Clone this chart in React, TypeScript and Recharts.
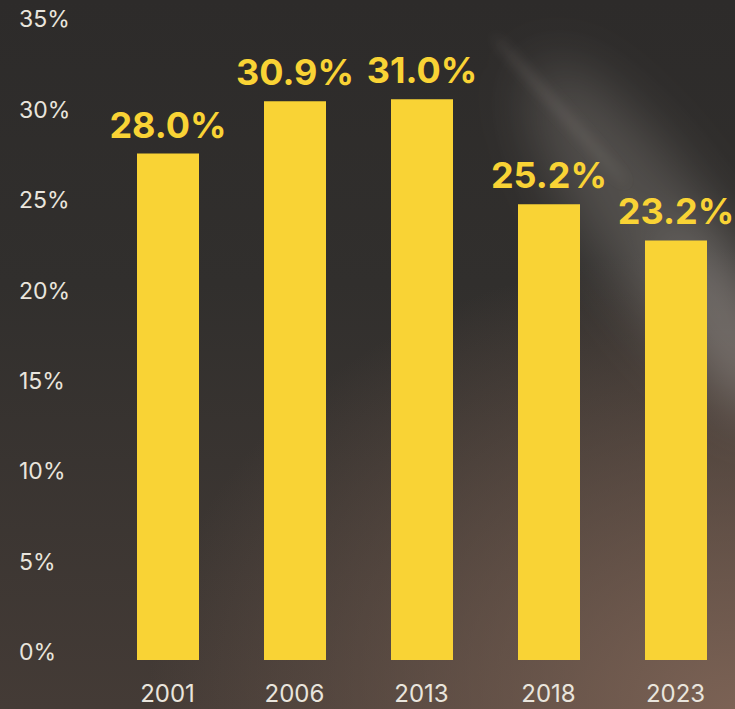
import { BarChart, Bar, XAxis, YAxis, LabelList } from 'recharts';

const years = ['2001', '2006', '2013', '2018', '2023'];
const shares = [28.0, 30.9, 31.0, 25.2, 23.2];
const yTicks = [0, 5, 10, 15, 20, 25, 30, 35];

const data = years.map((year, i) => ({ year, share: shares[i] }));

const YELLOW = '#F9D335';
const LIGHT = '#E9E5DD';
const FONT = 'Inter, "Noto Sans", sans-serif';

function YTick({ y, payload }: any) {
  return (
    <text x={19} y={y - 8} dy="0.36em" textAnchor="start" fill={LIGHT} fontSize={23} fontFamily={FONT}>
      {payload.value}%
    </text>
  );
}

function XTick({ x, y, payload }: any) {
  return (
    <text x={x} y={y + 33} dy="0.36em" textAnchor="middle" fill={LIGHT} fontSize={24} fontFamily={FONT}>
      {payload.value}
    </text>
  );
}

function ValueLabel({ x, y, width, value }: any) {
  return (
    <text x={x + width / 2} y={y - 16} textAnchor="middle" fill={YELLOW} fontSize={36} fontWeight={700} fontFamily={FONT}>
      {value.toFixed(1)}%
    </text>
  );
}

export default function App() {
  return (
    <div
      style={{
        position: 'fixed',
        left: 0,
        top: 0,
        width: 735,
        height: 709,
        overflow: 'hidden',
        background:
          'radial-gradient(ellipse 80% 65% at 100% 100%, rgba(126,100,86,0.95) 0%, rgba(126,100,86,0) 100%), linear-gradient(180deg, #2d2b2a 0%, #312f2d 40%, #443b36 100%)',
      }}
    >
      <svg width={735} height={709} style={{ position: 'absolute', left: 0, top: 0 }}>
        <defs>
          <filter id="soft" x="-50%" y="-50%" width="200%" height="200%">
            <feGaussianBlur stdDeviation="28" />
          </filter>
          <filter id="thin" x="-50%" y="-50%" width="200%" height="200%">
            <feGaussianBlur stdDeviation="6" />
          </filter>
        </defs>
        <g filter="url(#soft)">
          <ellipse cx={660} cy={240} rx={210} ry={60} fill="#a09a95" opacity={0.3} transform="rotate(55 660 240)" />
          <ellipse cx={725} cy={320} rx={110} ry={35} fill="#b0aaa5" opacity={0.3} transform="rotate(62 725 320)" />
        </g>
        <g filter="url(#thin)">
          <ellipse cx={560} cy={110} rx={100} ry={5} fill="#8a8480" opacity={0.25} transform="rotate(48 560 110)" />
        </g>
      </svg>
      <div style={{ position: 'absolute', left: 0, top: 0 }}>
        <BarChart width={739} height={709} data={data} margin={{ top: 27, right: 0, bottom: 19, left: 0 }} barSize={62}>
          <XAxis dataKey="year" axisLine={false} tickLine={false} tickSize={0} tickMargin={0} height={30} tick={<XTick />} interval={0} />
          <YAxis domain={[0, 35]} ticks={yTicks} axisLine={false} tickLine={false} width={104} tick={<YTick />} interval={0} />
          <Bar dataKey="share" fill={YELLOW} isAnimationActive={false}>
            <LabelList dataKey="share" content={<ValueLabel />} />
          </Bar>
        </BarChart>
      </div>
    </div>
  );
}
